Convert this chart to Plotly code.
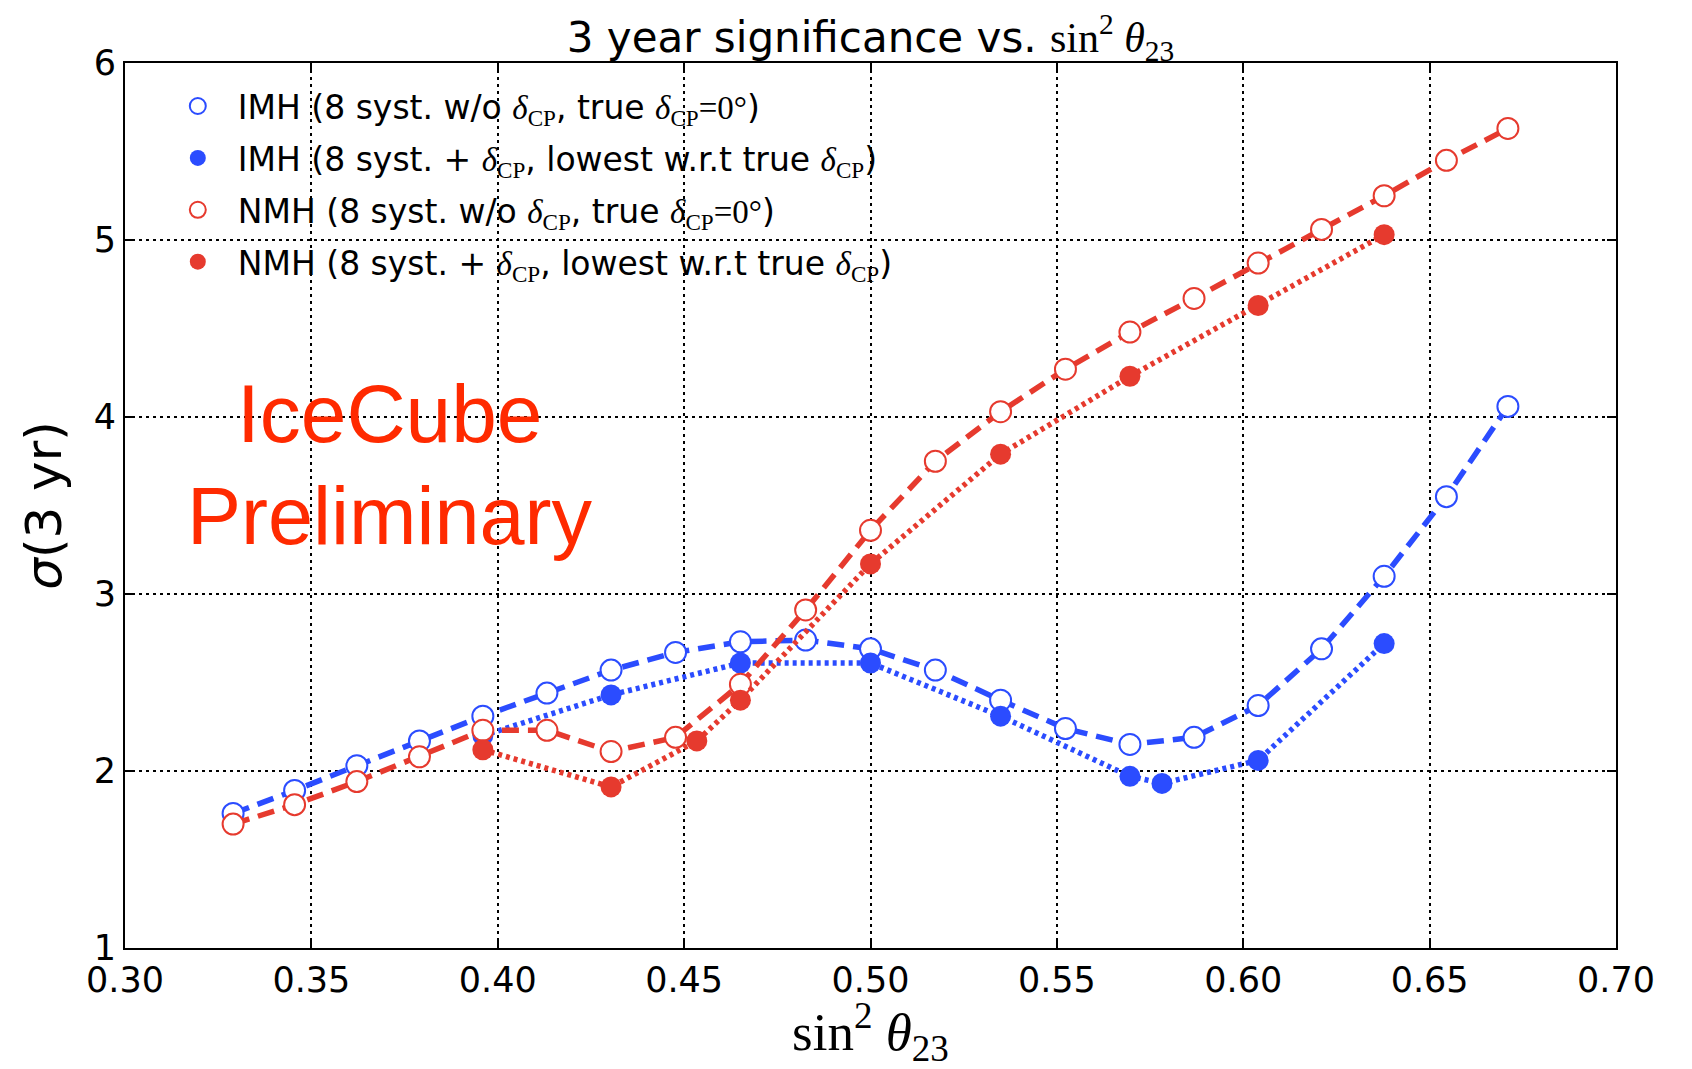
import plotly.graph_objects as go

# ---------------- data ----------------
x_open = [0.3290, 0.3455, 0.3622, 0.3790, 0.3960, 0.4132, 0.4304, 0.4477, 0.4651, 0.4826,
          0.5000, 0.5174, 0.5349, 0.5523, 0.5696, 0.5868, 0.6040, 0.6210, 0.6378, 0.6545, 0.6710]
imh_open = [1.76, 1.89, 2.03, 2.17, 2.31, 2.44, 2.57, 2.67, 2.73, 2.74,
            2.69, 2.57, 2.40, 2.24, 2.15, 2.19, 2.37, 2.69, 3.10, 3.55, 4.06]
nmh_open = [1.70, 1.81, 1.94, 2.08, 2.23, 2.23, 2.11, 2.19, 2.49, 2.91,
            3.36, 3.75, 4.03, 4.27, 4.48, 4.67, 4.87, 5.06, 5.25, 5.45, 5.63]

x_imh_fill = [0.3960, 0.4304, 0.4651, 0.5000, 0.5349, 0.5696, 0.5782, 0.6040, 0.6378]
imh_fill = [2.20, 2.43, 2.61, 2.61, 2.31, 1.97, 1.93, 2.06, 2.72]

x_nmh_fill = [0.3960, 0.4304, 0.4534, 0.4651, 0.5000, 0.5349, 0.5696, 0.6040, 0.6378]
nmh_fill = [2.12, 1.91, 2.17, 2.40, 3.17, 3.79, 4.23, 4.63, 5.03]

x_ticks = [0.30, 0.35, 0.40, 0.45, 0.50, 0.55, 0.60, 0.65, 0.70]
y_ticks = [1, 2, 3, 4, 5, 6]

BLUE = "#2b4cff"
RED = "#e63a2e"
SERIF = "Liberation Serif"
SANS = "DejaVu Sans"


def m(s):
    return f'<span style="font-family:{SERIF}">{s}</span>'


d = m("<i>δ</i><sub>CP</sub>")
labels = [
    f"IMH (8 syst. w/o {d}, true {d}{m('=0°')})",
    f"IMH (8 syst. + {d}, lowest w.r.t true {d})",
    f"NMH (8 syst. w/o {d}, true {d}{m('=0°')})",
    f"NMH (8 syst. + {d}, lowest w.r.t true {d})",
]

DASH = "17px,9px"
DOT = "4px,4px"
MS = 21

fig = go.Figure()

series = [
    (x_open, imh_open, BLUE, True, DASH, labels[0]),
    (x_imh_fill, imh_fill, BLUE, False, DOT, labels[1]),
    (x_open, nmh_open, RED, True, DASH, labels[2]),
    (x_nmh_fill, nmh_fill, RED, False, DOT, labels[3]),
]

for xs, ys, col, is_open, dash, lab in series:
    lw = 5.5 if dash == DASH else 5.5
    if is_open:
        marker = dict(size=MS, color="white", line=dict(color=col, width=2))
    else:
        marker = dict(size=MS, color=col, line=dict(color=col, width=0))
    fig.add_trace(go.Scatter(x=xs, y=ys, mode="lines+markers",
                             line=dict(color=col, width=lw, dash=dash),
                             marker=marker, showlegend=False, hoverinfo="x+y"))

# legend entries showing markers only
for i, (xs, ys, col, is_open, dash, lab) in enumerate(series):
    if is_open:
        marker = dict(size=MS, color="white", line=dict(color=col, width=2))
    else:
        marker = dict(size=MS, color=col, line=dict(color=col, width=0))
    fig.add_trace(go.Scatter(x=[None], y=[None], mode="markers", marker=marker,
                             name=lab, legendgroup=f"g{i}", showlegend=True))

fig.add_annotation(x=0.371, y=4.02, xref="x", yref="y", text="IceCube",
                   showarrow=False, xanchor="center", yanchor="middle",
                   font=dict(family="Liberation Sans", size=82, color="#ff2a00"))
fig.add_annotation(x=0.371, y=3.44, xref="x", yref="y", text="Preliminary",
                   showarrow=False, xanchor="center", yanchor="middle",
                   font=dict(family="Liberation Sans", size=81, color="#ff2a00"))

axis_common = dict(
    showline=True, linecolor="black", linewidth=2, mirror="ticks",
    ticks="inside", ticklen=9, tickwidth=1.5, tickcolor="black",
    showgrid=True, gridcolor="black", gridwidth=1.8, griddash="3px,4px",
    zeroline=False, tickfont=dict(family=SANS, size=35, color="black"),
)

fig.update_layout(
    width=1692, height=1069,
    margin=dict(l=125, r=76, t=63, b=121, autoexpand=False),
    paper_bgcolor="white", plot_bgcolor="white",
    title=dict(text=f"3 year significance vs. {m('sin<sup>2</sup> <i>θ</i><sub>23</sub>')}",
               x=0.5, xref="paper", xanchor="center",
               y=1 - 37 / 1069, yref="container", yanchor="middle",
               font=dict(family=SANS, size=42, color="black")),
    xaxis=dict(range=[0.30, 0.70], tickvals=x_ticks, tickformat=".2f",
               title=dict(text=m("sin<sup>2</sup> <i>θ</i><sub>23</sub>"), standoff=16,
                          font=dict(family=SERIF, size=53, color="black")),
               **axis_common),
    yaxis=dict(range=[1, 6], tickvals=y_ticks,
               title=dict(text="<i>σ</i>(3 yr)", standoff=16,
                          font=dict(family=SANS, size=50, color="black")),
               **axis_common),
    legend=dict(x=0.022, y=0.983, xanchor="left", yanchor="top",
                bgcolor="rgba(0,0,0,0)", borderwidth=0, tracegroupgap=6,
                itemwidth=70,
                font=dict(family=SANS, size=33, color="black")),
    showlegend=True,
)

fig.write_html("out.html")
